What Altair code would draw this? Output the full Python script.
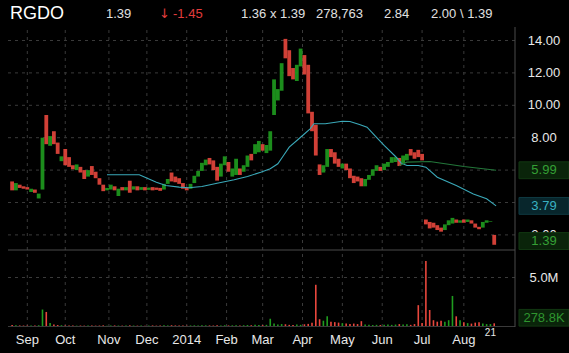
import altair as alt
import pandas as pd

# ---------------- data ----------------
T = list(range(0, 256, 2))  # trading-day index of each bar
OPEN = [5.30, 4.75, 5.10, 5.00, 4.95, 4.65, 4.80, 4.25, 4.80, 9.40,
        7.50, 8.40, 7.70, 6.55, 7.30, 6.80, 6.30, 6.00, 6.20, 6.00,
        5.60, 6.25, 5.90, 5.50, 5.10, 4.75, 4.80, 5.00, 4.40, 4.95,
        4.75, 5.35, 4.80, 5.00, 4.78, 4.95, 4.78, 4.95, 4.92, 4.90,
        4.80, 5.15, 5.85, 5.60, 5.50, 5.20, 4.95, 4.85, 5.20, 5.60,
        5.95, 6.30, 6.75, 6.60, 6.20, 5.60, 6.30, 6.50, 5.60, 5.70,
        6.10, 5.90, 6.20, 7.00, 7.00, 7.10, 7.60, 7.05, 7.20, 9.40,
        10.30, 10.90, 14.10, 13.40, 12.30, 11.50, 12.40, 13.10, 12.50, 9.60,
        8.80, 6.35, 5.85, 6.20, 7.30, 7.10, 6.70, 6.10, 6.40, 6.10,
        5.65, 5.60, 5.50, 5.00, 5.40, 5.65, 5.95, 6.20, 6.00, 6.20,
        6.45, 6.50, 6.75, 6.40, 6.60, 7.30, 7.10, 7.25, 7.00, 2.95,
        2.80, 2.75, 2.60, 2.45, 2.30, 2.60, 2.70, 2.95, 2.75, 2.95,
        2.80, 2.90, 2.70, 2.50, 2.45, 2.75, 2.80, 2.00]
CLOSE = [4.75, 5.20, 4.90, 4.85, 4.80, 4.85, 4.60, 4.55, 8.00, 7.60,
         8.10, 7.60, 7.00, 6.85, 6.30, 6.20, 6.05, 6.35, 5.85, 5.45,
         6.00, 5.70, 5.50, 5.10, 4.70, 4.90, 5.10, 4.75, 4.85, 4.75,
         4.95, 4.60, 5.00, 4.75, 4.95, 4.75, 4.92, 4.75, 4.78, 4.72,
         5.15, 5.45, 5.30, 5.25, 5.15, 4.85, 4.75, 5.15, 5.65, 5.95,
         6.45, 6.65, 6.35, 6.00, 5.35, 6.40, 6.85, 5.90, 6.10, 6.70,
         5.70, 6.30, 6.90, 6.60, 7.60, 7.80, 7.20, 7.55, 8.40, 11.60,
         11.00, 12.60, 12.90, 11.80, 11.60, 12.50, 13.50, 11.90, 9.50, 8.40,
         6.90, 5.70, 6.30, 7.30, 6.80, 6.40, 6.20, 6.40, 6.00, 5.50,
         5.20, 5.30, 5.00, 5.45, 5.70, 6.05, 6.30, 5.95, 6.40, 6.50,
         6.80, 6.80, 6.25, 6.90, 7.00, 6.90, 6.70, 6.80, 6.60, 2.65,
         2.40, 2.45, 2.30, 2.20, 2.65, 2.90, 3.05, 2.75, 2.90, 2.75,
         2.95, 2.70, 2.45, 2.35, 2.80, 2.90, 2.84, 1.39]
VOLUME = [0.10, 0.08, 0.06, 0.05, 0.05, 0.06, 0.05, 0.08, 1.70, 1.45,
          0.30, 0.15, 0.10, 0.08, 0.06, 0.06, 0.05, 0.04, 0.05, 0.04,
          0.05, 0.06, 0.04, 0.05, 0.07, 0.04, 0.05, 0.06, 0.05, 0.04,
          0.05, 0.07, 0.05, 0.04, 0.05, 0.04, 0.05, 0.06, 0.04, 0.05,
          0.07, 0.06, 0.08, 0.06, 0.05, 0.05, 0.04, 0.06, 0.07, 0.06,
          0.08, 0.07, 0.06, 0.05, 0.07, 0.06, 0.08, 0.06, 0.07, 0.09,
          0.06, 0.08, 0.10, 0.08, 0.12, 0.10, 0.09, 0.12, 0.75, 0.25,
          0.15, 0.20, 0.18, 0.12, 0.10, 0.15, 0.12, 0.18, 0.22, 0.35,
          4.25, 0.70, 0.55, 1.00, 0.45, 0.40, 0.35, 0.30, 0.25, 0.20,
          0.25, 0.20, 0.50, 0.15, 0.12, 0.10, 0.12, 0.10, 0.12, 0.15,
          0.12, 0.15, 0.20, 0.15, 0.18, 0.12, 0.20, 2.15, 0.30, 6.70,
          1.65, 0.60, 0.45, 0.55, 0.45, 0.60, 3.10, 1.00, 0.60, 0.40,
          0.30, 0.25, 0.35, 0.40, 0.25, 0.20, 0.20, 0.28]  # millions

CYAN_T = [50, 67, 70, 76, 81, 88, 93, 100, 108, 117, 124, 131, 136, 140, 143, 146, 152,
          157, 159, 165, 174, 178, 183, 187, 191, 196, 202, 205, 208, 214, 218, 224,
          234, 243, 250, 255]
CYAN_V = [5.71, 5.71, 5.56, 5.25, 5.05, 4.95, 4.91, 4.99, 5.19, 5.40, 5.60, 5.87, 6.08,
          6.39, 6.90, 7.42, 8.03, 8.55, 8.86, 8.86, 9.02, 9.00, 8.81, 8.65, 8.14, 7.52,
          6.84, 6.43, 6.28, 6.28, 6.18, 5.56, 5.05, 4.53, 4.23, 3.79]
GREEN_T = [204, 208, 220, 238, 255]
GREEN_V = [6.28, 6.49, 6.53, 6.22, 5.99]

PRICE_GRID = [2, 4, 6, 8, 10, 12, 14]
PRICE_TICKS = [2, 8, 10, 12, 14]          # 4.00 and 6.00 sit under the value boxes
VOL_TICKS = [5]
VOL_TICK_LABELS = ["5.0M"]
MONTH_T = [8, 28, 51, 71, 92, 113, 132, 153, 174, 195, 216, 238]
MONTH_LABELS = ["Sep", "Oct", "Nov", "Dec", "2014", "Feb", "Mar", "Apr", "May", "Jun", "Jul", "Aug"]
LAST_DAY_T = [252]
LAST_DAY_LABEL = ["21"]
LAST_VOL = 0.2788
LAST_VOL_LABEL = "278.8K"

# ---------------- styles ----------------
FONT = "Liberation Sans"
W, H = 569, 353
UP, DOWN = "#1f9c1f", "#e8473d"
X = alt.Scale(domain=[-3.75, 290.77], nice=False, zero=False)
YP = alt.Scale(domain=[-5.29, 16.5], nice=False, zero=False)
YV = alt.Scale(domain=[-2.78, 33.6], nice=False, zero=False)
COL = alt.Scale(domain=["up", "down"], range=[UP, DOWN])

df = pd.DataFrame({"t": T, "open": OPEN, "close": CLOSE, "vol": VOLUME})
df["lo"] = df[["open", "close"]].min(axis=1)
df["hi"] = df[["open", "close"]].max(axis=1)
df["dir"] = ["up" if c >= o else "down" for o, c in zip(OPEN, CLOSE)]

xq = alt.X("t:Q", scale=X, axis=None)

layers = []

# grid
layers.append(alt.Chart(pd.DataFrame({"v": PRICE_GRID})).mark_rule(
    color="#3a3a3a", strokeDash=[3, 4]).encode(
    y=alt.Y("v:Q", scale=YP, axis=None), x=alt.value(8), x2=alt.value(515)))
layers.append(alt.Chart(pd.DataFrame({"v": VOL_TICKS})).mark_rule(
    color="#3a3a3a", strokeDash=[3, 4]).encode(
    y=alt.Y("v:Q", scale=YV, axis=None), x=alt.value(8), x2=alt.value(515)))
layers.append(alt.Chart(pd.DataFrame({"t": MONTH_T})).mark_rule(
    color="#3a3a3a", strokeDash=[3, 4]).encode(
    x=alt.X("t:Q", scale=X, axis=None), y=alt.value(30), y2=alt.value(326)))

# frame lines
layers.append(alt.Chart(pd.DataFrame({"a": [0]})).mark_rule(color="#4a4a4a").encode(
    x=alt.value(8), x2=alt.value(515), y=alt.value(250)))
layers.append(alt.Chart(pd.DataFrame({"a": [0]})).mark_rule(color="#3a3a3a").encode(
    x=alt.value(8), x2=alt.value(515), y=alt.value(326.5)))
layers.append(alt.Chart(pd.DataFrame({"a": [0]})).mark_rule(color="#4a4a4a").encode(
    x=alt.value(515), y=alt.value(27), y2=alt.value(327)))

# price labels (drawn before boxes so boxes cover them)
layers.append(alt.Chart(pd.DataFrame({"v": PRICE_TICKS})).mark_text(
    font=FONT, fontSize=13, color="#e8e8e8", align="center", baseline="middle").encode(
    y=alt.Y("v:Q", scale=YP, axis=None), x=alt.value(544), text=alt.Text("v:Q", format=".2f")))
layers.append(alt.Chart(pd.DataFrame({"v": VOL_TICKS, "lab": VOL_TICK_LABELS})).mark_text(
    font=FONT, fontSize=13, color="#e8e8e8", align="center", baseline="middle").encode(
    y=alt.Y("v:Q", scale=YV, axis=None), x=alt.value(544), text="lab:N"))

# bars
base = alt.Chart(df)
layers.append(base.mark_bar(size=3.8, opacity=0.9).encode(
    x=xq, y=alt.Y("lo:Q", scale=YP, axis=None), y2="hi:Q",
    color=alt.Color("dir:N", scale=COL, legend=None)))
layers.append(base.mark_bar(size=1.6).encode(
    x=xq, y=alt.Y("vol:Q", scale=YV, axis=None), y2=alt.datum(0),
    color=alt.Color("dir:N", scale=COL, legend=None)))

# moving averages
layers.append(alt.Chart(pd.DataFrame({"t": CYAN_T, "v": CYAN_V})).mark_line(
    color="#3aa9b9", strokeWidth=1.1).encode(x=xq, y=alt.Y("v:Q", scale=YP, axis=None)))
layers.append(alt.Chart(pd.DataFrame({"t": GREEN_T, "v": GREEN_V})).mark_line(
    color="#23773a", strokeWidth=1.1).encode(x=xq, y=alt.Y("v:Q", scale=YP, axis=None)))


def value_box(v, label, scale, clamp, half, fill, stroke, tcolor):
    d = alt.Chart(pd.DataFrame({"v": [v], "lab": [label]})).transform_calculate(
        yc=f"max(datum.v, {clamp})").transform_calculate(
        y0=f"datum.yc - {half}", y1=f"datum.yc + {half}")
    rect = d.mark_rect(fill=fill, stroke=stroke, strokeWidth=1).encode(
        x=alt.value(519), x2=alt.value(569),
        y=alt.Y("y0:Q", scale=scale, axis=None), y2="y1:Q")
    txt = d.mark_text(font=FONT, fontSize=13, color=tcolor, align="center", baseline="middle").encode(
        x=alt.value(544), y=alt.Y("yc:Q", scale=scale, axis=None), text="lab:N")
    return [rect, txt]


layers += value_box(GREEN_V[-1], f"{GREEN_V[-1]:.2f}", YP, 0, 0.52, "#0a240a", "#123812", "#35a035")
layers += value_box(CYAN_V[-1], f"{CYAN_V[-1]:.2f}", YP, 0, 0.52, "#08262c", "#0f3a42", "#3ab2c2")
layers += value_box(CLOSE[-1], f"{CLOSE[-1]:.2f}", YP, 1.62, 0.52, "#0a240a", "#123812", "#35a035")
layers += value_box(LAST_VOL, LAST_VOL_LABEL, YV, 0.85, 0.86, "#0a240a", "#123812", "#2f952f")

# x labels
layers.append(alt.Chart(pd.DataFrame({"t": MONTH_T, "lab": MONTH_LABELS})).mark_text(
    font=FONT, fontSize=13, color="#e8e8e8", align="center", baseline="middle").encode(
    x=xq, y=alt.value(340), text="lab:N"))
layers.append(alt.Chart(pd.DataFrame({"t": LAST_DAY_T, "lab": LAST_DAY_LABEL})).mark_text(
    font=FONT, fontSize=10, color="#e8e8e8", align="center", baseline="middle").encode(
    x=xq, y=alt.value(333), text="lab:N"))

# header
HEADER = [("RGDO", 10, 18, "#ffffff", FONT), ("1.39", 106, 13, "#e0e0e0", FONT),
          ("\u2193", 159, 13, "#e23c3c", "DejaVu Sans"), ("-1.45", 173, 13, "#e23c3c", FONT),
          ("1.36 x 1.39", 241, 13, "#e0e0e0", FONT), ("278,763", 316, 13, "#e0e0e0", FONT),
          ("2.84", 384, 13, "#e0e0e0", FONT), ("2.00 \\ 1.39", 431, 13, "#e0e0e0", FONT)]
for txt, hx, fs, c, f in HEADER:
    layers.append(alt.Chart(pd.DataFrame({"s": [txt]})).mark_text(
        font=f, fontSize=fs, color=c, align="left", baseline="middle").encode(
        x=alt.value(hx), y=alt.value(14), text="s:N"))

chart = alt.layer(*layers).resolve_scale(y="independent").properties(
    width=W, height=H, background="#000000", padding=0,
    autosize=alt.AutoSizeParams(type="none")).configure_view(strokeWidth=0)

chart.save("out.html", embed_options={"renderer": "svg", "actions": False})
